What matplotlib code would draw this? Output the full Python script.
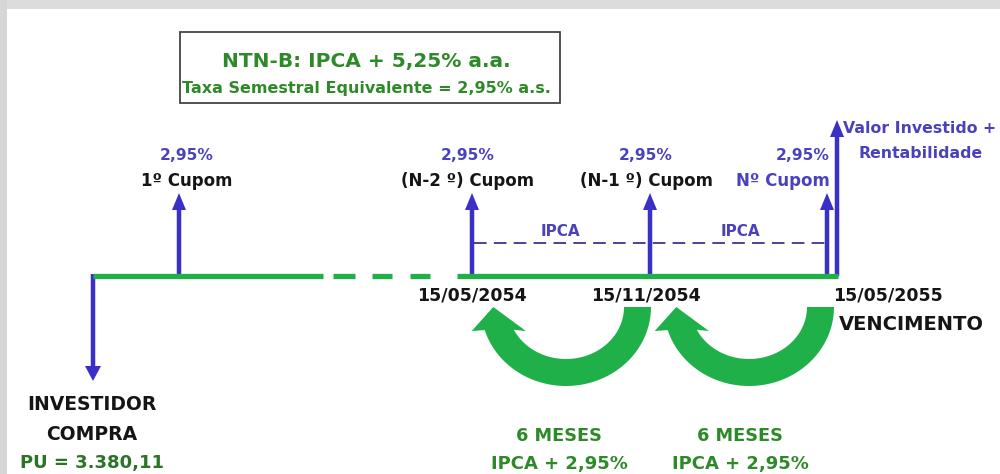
import numpy as np
import matplotlib.pyplot as plt
from matplotlib.patches import Polygon, Rectangle

# ---- content ----
title = "NTN-B: IPCA + 5,25% a.a."
subtitle = "Taxa Semestral Equivalente = 2,95% a.s."
coupon_rates = ["2,95%", "2,95%", "2,95%", "2,95%"]
coupon_labels = ["1º Cupom", "(N-2 º) Cupom", "(N-1 º) Cupom", "Nº Cupom"]
dates = ["15/05/2054", "15/11/2054", "15/05/2055"]
ipca_labels = ["IPCA", "IPCA"]
period_labels = ["6 MESES", "6 MESES"]
period_rates = ["IPCA + 2,95%", "IPCA + 2,95%"]
buyer_lines = ["INVESTIDOR", "COMPRA"]
pu_label = "PU = 3.380,11"
final_lines = ["Valor Investido +", "Rentabilidade"]
maturity_label = "VENCIMENTO"

# ---- layout (pixel coordinates) ----
coupon_x = [179, 472, 650, 827]
coupon_text_x = [187, 468, 646, 830]
date_x = [472, 646, 888]
ipca_x = [560, 740]
arc_cx = [566, 749]
line_y = 276

blue = '#3a30c8'
blue_txt = '#4a42bd'
green = '#1fb04a'
dgreen = '#2e8a28'
black = '#151515'

plt.rcParams['font.family'] = 'DejaVu Sans'
plt.rcParams['font.weight'] = 'bold'

fig = plt.figure(figsize=(10, 4.74), dpi=100)
ax = fig.add_axes([0, 0, 1, 1])
ax.set_xlim(0, 1000)
ax.set_ylim(474, 0)
ax.axis('off')

# screenshot border
ax.add_patch(Rectangle((0, 0), 1000, 9, color='#dcdcdc', lw=0, zorder=0))
ax.add_patch(Rectangle((0, 0), 7, 474, color='#d6d6d6', lw=0, zorder=0))

# title box
ax.add_patch(Rectangle((180, 32), 380, 71, fill=False, ec='#444444', lw=1.3))
ax.text(366, 61, title, ha='center', va='center', color=dgreen, fontsize=14.5)
ax.text(366, 88, subtitle, ha='center', va='center', color=dgreen, fontsize=11.5)

# timeline
ax.plot([93, 323], [line_y, line_y], color=green, lw=3.8, solid_capstyle='butt')
for x0, x1 in [(333, 355), (372, 392), (410, 430)]:
    ax.plot([x0, x1], [line_y, line_y], color=green, lw=3.8, solid_capstyle='butt')
ax.plot([457, 838], [line_y, line_y], color=green, lw=3.8, solid_capstyle='butt')

# IPCA dashed line
ax.plot([474, 826], [243, 243], color='#3d3590', lw=1.3, dashes=(7, 4))
for x, s in zip(ipca_x, ipca_labels):
    ax.text(x, 231, s, ha='center', va='center', color=blue_txt, fontsize=11)

# coupon arrows
for x in coupon_x:
    ax.arrow(x, line_y, 0, -(line_y - 193), width=4.5, head_width=14,
             head_length=17, length_includes_head=True, color=blue, lw=0)
# final payment arrow
ax.arrow(837, line_y, 0, -(line_y - 120), width=4.5, head_width=14,
         head_length=17, length_includes_head=True, color=blue, lw=0)
# purchase arrow
ax.arrow(93, line_y - 2, 0, 383 - line_y, width=4.5, head_width=16,
         head_length=15, length_includes_head=True, color=blue, lw=0)

for i, (x, r, lab) in enumerate(zip(coupon_text_x, coupon_rates, coupon_labels)):
    ha = 'right' if i == 3 else 'center'
    ax.text(x, 155, r, ha=ha, va='center', color=blue_txt, fontsize=11.2)
    ax.text(x, 181, lab, ha=ha, va='center',
            color=blue_txt if i == 3 else black, fontsize=12)

ax.text(843, 128, final_lines[0], ha='left', va='center', color=blue_txt,
        fontsize=11.3)
ax.text(921, 154, final_lines[1], ha='center', va='center', color=blue_txt,
        fontsize=11.3)

for x, d in zip(date_x, dates):
    ax.text(x, 296, d, ha='center', va='center', color=black, fontsize=12.5)
ax.text(911, 325, maturity_label, ha='center', va='center', color=black,
        fontsize=14)

# curved green arrows
for cx in arc_cx:
    cy = 307
    to = np.radians(np.linspace(0, 163, 80))
    ti = np.radians(np.linspace(0, 154, 80))
    outer = np.column_stack([cx + 85 * np.cos(to), cy + 79 * np.sin(to)])
    inner = np.column_stack([cx + 58 * np.cos(ti), cy + 52 * np.sin(ti)])
    base_y = cy + 24
    ox, ix = outer[-1, 0], inner[-1, 0]
    mid = (ox + ix) / 2
    head = np.array([[ox - 13, base_y], [mid - 6, cy], [ix + 12, base_y]])
    pts = np.vstack([outer, head, inner[::-1]])
    ax.add_patch(Polygon(pts, closed=True, color=green, lw=0))

for x, a, b in zip([559, 740], period_labels, period_rates):
    ax.text(x, 436, a, ha='center', va='center', color=dgreen, fontsize=12.8)
    ax.text(x, 464, b, ha='center', va='center', color=dgreen, fontsize=13)

for y, s in zip([405, 434], buyer_lines):
    ax.text(92, y, s, ha='center', va='center', color=black, fontsize=13.5)
ax.text(92, 463, pu_label, ha='center', va='center', color='#2a7426',
        fontsize=13)

fig.savefig('out.png', dpi=100)
